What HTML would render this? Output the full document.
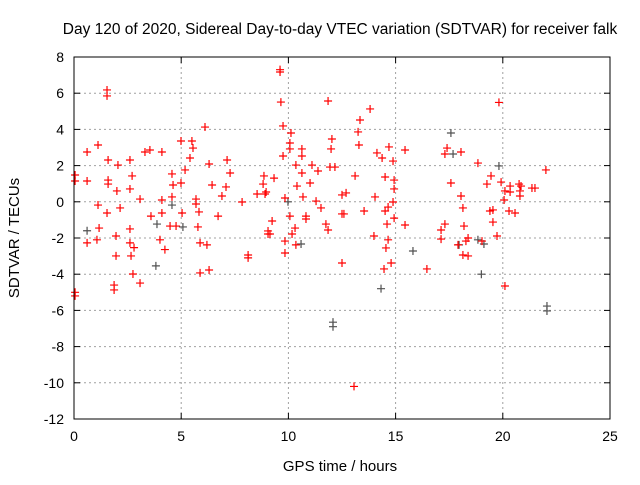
<!DOCTYPE html>
<html><head><meta charset="utf-8"><style>
body{margin:0;background:#fff;}
svg text{font-family:"Liberation Sans",sans-serif;}
</style></head><body>
<svg id="chart" width="640" height="480" xmlns="http://www.w3.org/2000/svg">
<rect width="640" height="480" fill="#fff"/>
<text x="340" y="34" font-size="15.5" text-anchor="middle" fill="#000">Day 120 of 2020, Sidereal Day-to-day VTEC variation (SDTVAR) for receiver falk</text>
<g id="grid"></g><g id="ticks"></g><g id="marks"></g>
<rect x="74" y="57" width="536" height="362" fill="none" stroke="#000" stroke-width="1"/>
<text x="340" y="471" font-size="15" text-anchor="middle">GPS time / hours</text>
<text x="19" y="238" font-size="15" text-anchor="middle" transform="rotate(-90 19 238)">SDTVAR / TECUs</text>
</svg>
<script>
const xTicks=[0,5,10,15,20,25];
const yTicks=[8,6,4,2,0,-2,-4,-6,-8,-10,-12];
const redX=[0.05,0.05,0.05,0.05,0.61,0.61,0.61,1.12,1.12,1.07,1.17,1.54,1.54,1.59,1.59,1.59,1.54,2.0,2.05,2.15,1.87,1.87,1.96,1.96,2.61,2.61,2.61,2.61,2.66,2.75,2.71,2.8,3.08,3.08,3.31,3.54,3.59,4.01,4.1,4.1,4.1,4.24,4.48,4.57,4.57,4.62,4.76,4.99,4.99,5.04,5.18,5.41,5.5,5.55,5.69,5.69,5.83,5.78,5.88,5.88,6.11,6.2,6.3,6.3,6.44,6.72,6.9,7.09,7.14,7.28,7.84,8.12,8.12,8.54,8.82,8.86,8.91,8.96,9.05,9.05,9.14,9.24,9.33,9.61,9.65,9.75,9.75,9.84,9.84,9.84,10.07,10.12,10.07,10.07,10.17,10.31,10.35,10.35,10.4,10.63,10.63,10.63,10.68,10.82,10.82,11.01,11.1,11.29,11.38,11.52,11.75,11.85,11.94,11.99,12.03,11.85,12.17,12.5,12.5,12.5,12.59,12.69,13.11,13.25,13.29,13.34,13.53,13.81,13.99,14.04,14.13,14.37,14.51,14.88,14.93,14.88,14.93,14.79,14.93,14.46,14.51,14.6,14.65,14.55,14.69,14.65,15.44,15.44,17.12,17.12,17.3,17.4,17.3,17.58,18.05,18.14,18.05,18.19,18.28,17.91,18.38,18.38,18.84,19.26,19.4,19.45,19.54,19.54,19.82,19.92,19.73,20.1,20.06,20.1,20.29,20.34,20.34,20.57,20.76,20.85,20.8,20.8,21.36,21.5,22.01,16.46,19.03,18.14,13.06,9.61];
const redY=[1.48,1.15,-5.0,-5.2,1.15,2.75,-2.27,3.14,-0.18,-2.1,-1.45,6.18,5.85,2.31,1.2,0.98,-0.62,0.6,2.03,-0.34,-4.6,-4.87,-1.89,-2.99,2.31,0.71,-1.5,-2.27,-2.99,-3.99,1.43,-2.53,-4.49,0.15,2.75,2.86,-0.79,-2.1,2.75,0.1,-0.62,-2.64,-1.34,1.54,0.27,0.93,-1.34,3.36,1.04,-0.62,1.76,2.42,3.36,2.97,0.15,-0.12,-0.56,-1.39,-2.27,-3.93,4.13,-2.38,2.09,-3.77,0.93,-0.79,0.32,0.82,2.31,1.59,-0.01,-2.94,-3.1,0.43,0.98,1.43,0.43,0.54,-1.78,-1.61,-1.78,-1.06,1.31,7.17,5.51,4.19,2.53,0.21,-2.17,-2.83,3.25,3.8,2.92,-0.79,-1.78,-1.45,-2.38,2.03,0.87,2.92,2.53,1.59,0.27,-0.79,-0.95,1.04,2.03,0.04,1.7,-0.34,-1.23,5.57,1.92,2.92,3.47,-1.56,1.92,0.38,-0.67,-3.38,-0.67,0.49,1.43,3.86,3.14,4.52,-0.51,5.13,-1.89,0.27,2.7,2.42,1.37,2.25,1.2,-0.01,-0.9,-3.38,0.71,-3.71,-0.51,-1.23,-2.1,-2.55,3.03,-0.29,-1.28,2.86,-2.06,-1.56,-1.23,2.97,2.64,1.04,0.32,-0.34,2.75,-1.34,-2.17,-2.38,-2.99,-2.0,2.14,0.98,-0.51,1.43,-1.12,-0.45,5.49,1.09,-1.89,0.6,0.1,-4.65,-0.51,0.87,0.54,-0.62,0.98,0.87,0.6,0.32,0.76,0.76,1.76,-3.71,-2.17,-2.94,-10.2,7.3];
const grayX=[0.61,3.87,3.82,4.57,5.08,9.98,10.59,12.08,12.08,14.32,15.81,17.58,17.68,18.84,19.12,19.82,17.96,19.0,22.06,22.06];
const grayY=[-1.6,-1.23,-3.54,-0.18,-1.39,0.0,-2.33,-6.65,-6.9,-4.8,-2.72,3.8,2.64,-2.1,-2.33,1.98,-2.38,-4.0,-5.76,-6.03];
const X0=74,X1=610,Y0=419,Y1=57;
function sx(v){return X0+(v-0)/(25-0)*(X1-X0);}
function sy(v){return Y0-(v-(-12))/(8-(-12))*(Y0-Y1);}
const NS='http://www.w3.org/2000/svg';
function mk(t,a,p){const e=document.createElementNS(NS,t);for(const k in a)e.setAttribute(k,a[k]);p.appendChild(e);return e;}
const grid=document.getElementById('grid'),ticks=document.getElementById('ticks'),marks=document.getElementById('marks');
xTicks.forEach(t=>{const x=sx(t);
 if(t>0&&t<25){const g=mk('line',{x1:x,x2:x,y1:Y1,y2:Y0,stroke:'#a0a0a0','stroke-dasharray':'2,3'},grid);
 
 }
 mk('line',{x1:x,x2:x,y1:Y0,y2:Y0-6,stroke:'#000'},ticks);mk('line',{x1:x,x2:x,y1:Y1,y2:Y1+6,stroke:'#000'},ticks);
 const l=mk('text',{x:x,y:Y0+22,'font-size':14,'text-anchor':'middle'},ticks);l.textContent=t;
 
 });
yTicks.forEach(t=>{const y=sy(t);
 if(t>-12&&t<8){const g=mk('line',{x1:X0,x2:X1,y1:y,y2:y,stroke:'#a0a0a0','stroke-dasharray':'2,3'},grid);
 
 }
 mk('line',{x1:X0,x2:X0+6,y1:y,y2:y,stroke:'#000'},ticks);mk('line',{x1:X1,x2:X1-6,y1:y,y2:y,stroke:'#000'},ticks);
 const l=mk('text',{x:X0-10,y:y+5,'font-size':14,'text-anchor':'end'},ticks);l.textContent=t;
 
 });
function plus(x,y,c,name){const g=mk('path',{d:`M${x-4},${y}h8M${x},${y-4}v8`,stroke:c,'stroke-width':1.2,fill:'none'},marks);
 
 }
grayX.forEach((v,i)=>plus(sx(v),sy(grayY[i]),'#505050','gray-point'));
redX.forEach((v,i)=>plus(sx(v),sy(redY[i]),'#ff0000','red-point'));
</script>
</body></html>
